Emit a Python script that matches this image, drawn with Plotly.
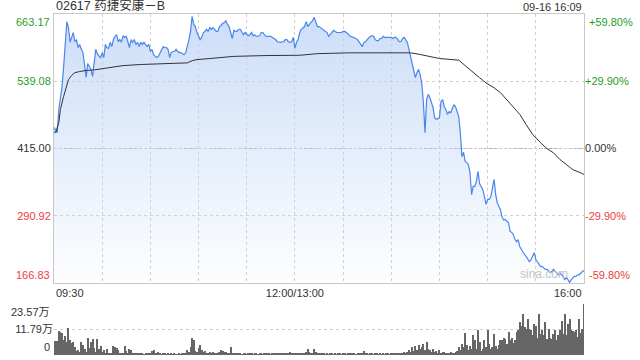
import plotly.graph_objects as go

# ---------------- data ----------------
title_text = "02617 药捷安康－B"
stamp_text = "09-16 16:09"
prev_close = 415.00
price_ticks = [663.17, 539.08, 415.00, 290.92, 166.83]
pct_ticks = [59.80, 29.90, 0.00, -29.90, -59.80]
vol_max = 23.57  # 万
vol_mid = 11.79  # 万
time_tick_minutes = [0, 30, 60, 90, 120, 150, 180, 210, 240, 270, 300, 330]
time_tick_labels = ["09:30", "", "", "", "", "12:00/13:00", "", "", "", "", "", "16:00"]

minutes = list(range(331))  # trading minutes since 09:30 (lunch break removed)

price = [
    454, 448, 444, 487, 511, 529, 566, 616, 649, 638,
    611, 620, 629, 612, 616, 601, 607, 598, 592, 570,
    546, 572, 565, 561, 548, 570, 598, 590, 586, 582,
    592, 583, 607, 601, 600, 611, 603, 616, 622, 625,
    612, 616, 611, 623, 620, 622, 612, 601, 616, 611,
    616, 607, 611, 603, 611, 607, 611, 607, 603, 607,
    594, 598, 588, 585, 583, 585, 592, 598, 603, 601,
    601, 598, 583, 592, 594, 594, 598, 594, 592, 592,
    590, 588, 592, 603, 616, 631, 659, 644, 640, 629,
    622, 616, 620, 629, 631, 635, 631, 638, 635, 638,
    635, 631, 631, 640, 642, 646, 647, 651, 644, 640,
    629, 618, 633, 631, 631, 635, 635, 629, 625, 629,
    625, 623, 625, 629, 623, 625, 622, 622, 623, 629,
    629, 625, 622, 622, 622, 622, 620, 618, 616, 612,
    611, 611, 612, 612, 616, 616, 612, 611, 612, 620,
    600, 611, 616, 629, 635, 638, 640, 649, 640, 644,
    647, 651, 657, 647, 640, 640, 638, 635, 633, 631,
    629, 622, 625, 629, 633, 631, 629, 629, 629, 629,
    631, 631, 629, 627, 623, 622, 620, 620, 618, 616,
    612, 607, 603, 611, 612, 616, 620, 622, 623, 622,
    616, 614, 614, 618, 618, 622, 620, 620, 620, 620,
    620, 618, 620, 620, 616, 612, 612, 618, 620, 616,
    611, 598, 585, 576, 561, 546, 555, 561, 551, 535,
    500, 444, 505, 515, 509, 500, 491, 472, 469, 470,
    472, 502, 505, 492, 487, 478, 483, 481, 487, 496,
    492, 483, 474, 444, 400, 408, 391, 389, 385, 371,
    330, 345, 345, 354, 373, 350, 343, 339, 326, 312,
    321, 321, 326, 340, 358, 330, 315, 308, 302, 288,
    283, 284, 280, 278, 262, 260, 256, 247, 243, 247,
    234, 229, 223, 219, 216, 210, 206, 210, 216, 223,
    210, 205, 201, 197, 197, 195, 192, 192, 188, 186,
    188, 192, 188, 186, 182, 186, 182, 179, 173, 177,
    173, 168, 173, 177, 179, 179, 182, 182, 186, 188, 190,
]

avg_minutes = [0, 1, 3, 4, 6, 8, 9, 11, 13, 16, 20, 25, 33, 37, 43, 54, 64, 74, 83, 86,
               89, 97, 112, 132, 153, 164, 184, 205, 222, 228, 234, 240, 252, 254, 257,
               261, 265, 269, 274, 278, 282, 286, 290, 294, 298, 303, 307, 311, 315, 319,
               323, 328, 330]
avg_price = [446, 444, 463, 487, 511, 533, 542, 550, 555, 557, 559, 560, 563, 564.5, 568,
             570, 571, 572, 573, 577, 579, 581, 585, 586.5, 587, 590, 591.5, 591.5, 591.5,
             588.5, 585, 581, 578, 573, 564, 555, 545.5, 536, 527, 518, 505, 493, 478, 459,
             441, 425.5, 414.5, 407, 394.7, 385.5, 376, 370, 367]

volume_wan = [
    6.5, 6.3, 6.5, 11.3, 10.8, 10.3, 7.0, 8.8, 6.0, 12.3,
    7.0, 5.4, 6.2, 3.5, 2.0, 2.3, 1.5, 6.2, 4.5, 3.0,
    1.2, 7.7, 3.4, 6.2, 7.4, 3.4, 1.5, 7.4, 3.0, 4.2,
    1.5, 2.3, 0.8, 3.0, 0.8, 0.5, 0.6, 4.2, 3.8, 3.4,
    2.3, 0.8, 0.6, 1.0, 4.2, 2.0, 0.8, 2.6, 2.3, 0.8,
    0.6, 0.5, 0.8, 0.5, 0.6, 0.5, 0.4, 0.6, 0.5, 0.8,
    0.6, 2.0, 2.3, 1.0, 0.5, 1.5, 0.5, 0.4, 1.0, 0.5,
    0.4, 0.5, 0.3, 0.6, 0.4, 0.5, 0.3, 0.4, 0.6, 0.4,
    0.5, 0.6, 0.8, 2.3, 1.2, 3.8, 7.7, 6.8, 2.0, 1.2,
    3.4, 4.6, 2.3, 1.5, 2.0, 1.0, 0.8, 1.2, 0.8, 1.5,
    0.6, 1.0, 0.8, 1.5, 2.5, 2.0, 1.2, 1.5, 0.8, 1.0,
    3.8, 1.0, 0.6, 0.5, 0.8, 0.5, 0.6, 0.4, 0.5, 0.6,
    0.4, 0.5, 0.8, 0.5, 0.4, 0.6, 0.5, 0.3, 0.5, 0.6,
    0.4, 0.5, 0.6, 0.8, 0.5, 0.4, 0.6, 0.5, 0.8, 1.0,
    0.6, 0.5, 0.8, 1.0, 0.6, 0.5, 0.8, 1.2, 0.6, 1.0,
    0.8, 0.6, 1.0, 0.8, 0.5, 0.6, 1.0, 1.5, 3.0, 1.2,
    0.8, 1.0, 2.7, 1.5, 1.0, 0.6, 0.8, 0.5, 0.6, 0.4,
    0.5, 0.4, 0.6, 0.5, 0.4, 0.5, 0.3, 0.5, 0.6, 0.4,
    0.5, 0.6, 0.4, 0.5, 0.6, 0.8, 0.5, 0.6, 0.4, 0.8,
    0.6, 1.0, 0.8, 1.8, 0.6, 0.5, 0.4, 0.6, 0.5, 0.4,
    0.5, 0.6, 0.4, 0.5, 0.3, 0.5, 0.4, 0.6, 0.5, 0.4,
    0.6, 0.5, 0.8, 0.6, 0.5, 0.8, 1.0, 0.8, 1.2, 1.0,
    1.5, 2.3, 1.5, 3.8, 2.0, 4.0, 2.5, 4.5, 3.0, 3.8,
    5.3, 2.5, 6.0, 3.0, 2.5, 1.5, 3.0, 1.2, 2.0, 1.0,
    2.5, 0.8, 1.2, 1.5, 0.6, 1.0, 0.8, 1.2, 0.6, 0.8,
    1.5, 2.0, 3.5, 2.5, 5.3, 3.8, 10.2, 4.5, 2.5, 4.1,
    3.0, 9.1, 6.8, 3.0, 11.4, 6.0, 2.0, 3.0, 6.8, 3.5,
    11.4, 5.3, 2.6, 3.5, 9.8, 4.1, 3.0, 4.5, 6.8, 6.8,
    8.0, 7.6, 5.0, 10.6, 6.8, 8.0, 5.6, 6.8, 10.6, 11.4,
    15.2, 13.6, 18.9, 12.9, 12.1, 16.7, 12.1, 11.4, 9.1, 14.4,
    13.6, 8.0, 18.9, 9.5, 11.4, 9.1, 15.2, 7.6, 12.1, 8.0,
    7.6, 9.5, 11.7, 6.8, 9.1, 11.4, 15.9, 9.5, 18.9, 9.1,
    14.4, 16.7, 11.4, 11.1, 10.6, 11.4, 8.3, 16.7, 10.0, 12.0, 23.57,
]

# ---------------- styles ----------------
GREEN = "#1f9e1f"
RED = "#ee3b3b"
DARK = "#333333"
FONT = "Liberation Sans, Arial, Noto Sans CJK SC"
GRID = "#d0d0d0"
FRAME = "#c8c8c8"


def colour_for(v):
    if v > 0:
        return GREEN
    if v < 0:
        return RED
    return DARK


fig = go.Figure()

fig.add_trace(go.Scatter(
    x=minutes, y=price, mode="lines",
    line=dict(color="#4a86ec", width=1.2),
    fill="tozeroy",
    fillgradient=dict(type="vertical",
                      colorscale=[[0, "rgba(190,212,246,0.03)"], [1, "rgba(190,212,246,0.78)"]],
                      start=price_ticks[-1], stop=price_ticks[0]),
    xaxis="x", yaxis="y", hoverinfo="skip", showlegend=False,
))
fig.add_trace(go.Scatter(
    x=avg_minutes, y=avg_price, mode="lines",
    line=dict(color="#333333", width=1),
    xaxis="x", yaxis="y", hoverinfo="skip", showlegend=False,
))
fig.add_trace(go.Bar(
    x=minutes, y=volume_wan, width=0.62,
    marker=dict(color="#666666", line=dict(width=0)),
    xaxis="x2", yaxis="y3", hoverinfo="skip", showlegend=False,
))

main_bottom = 72 / 341
vol_top = 51 / 341

price_text = []
for p, pc in zip(price_ticks, pct_ticks):
    price_text.append("" if abs(pc) == max(pct_ticks) else
                      f'<span style="color:{colour_for(pc)}">{p:.2f}</span>')
pct_text = []
for pc in pct_ticks:
    s = f"+{pc:.2f}%" if pc > 0 else f"{pc:.2f}%"
    pct_text.append("" if abs(pc) == max(pct_ticks) else
                    f'<span style="color:{colour_for(pc)}">{s}</span>')

fig.update_layout(
    width=640, height=360,
    margin=dict(l=54, r=56, t=14, b=5),
    paper_bgcolor="white", plot_bgcolor="white",
    font=dict(family=FONT, size=11, color=DARK),
    bargap=0,
    xaxis=dict(domain=[0, 1], anchor="y", range=[0, 330],
               tickvals=time_tick_minutes,
               ticktext=["" if (t == "09:30" or t == "16:00") else t for t in time_tick_labels],
               ticks="", showgrid=True, gridcolor=GRID, griddash="dot", gridwidth=1,
               showline=True, linecolor=FRAME, mirror=True, zeroline=False,
               tickfont=dict(size=11, color=DARK)),
    yaxis=dict(domain=[main_bottom, 1], anchor="x", range=[price_ticks[-1], price_ticks[0]],
               tickvals=price_ticks, ticktext=price_text, ticks="",
               showgrid=True, gridcolor=GRID, griddash="dot",
               showline=True, linecolor=FRAME, mirror=True, zeroline=False,
               tickfont=dict(size=11)),
    yaxis2=dict(overlaying="y", side="right", anchor="x",
                range=[pct_ticks[-1], pct_ticks[0]],
                tickvals=pct_ticks, ticktext=pct_text, ticks="",
                showgrid=False, zeroline=False, showline=False,
                tickfont=dict(size=11)),
    xaxis2=dict(domain=[0, 1], anchor="y3", matches="x", range=[-0.5, 330.5],
                showticklabels=False, showgrid=False, showline=False, zeroline=False, ticks=""),
    yaxis3=dict(domain=[0, vol_top], anchor="x2", range=[0, vol_max],
                tickvals=[vol_mid, vol_max], ticktext=[f"{vol_mid:.2f}万", ""], ticks="",
                showgrid=True, gridcolor=GRID, griddash="dot",
                showline=False, zeroline=False, tickfont=dict(size=11, color=DARK)),
)

fig.add_shape(type="line", xref="x domain", yref="y", x0=0, x1=1,
              y0=prev_close, y1=prev_close, layer="below",
              line=dict(color="#b0b0b0", width=1, dash="3px,2px"))

ann = []
# title and timestamp
ann.append(dict(text=title_text, xref="paper", yref="paper", x=0, y=1, xanchor="left",
                yanchor="bottom", xshift=0, yshift=-1, showarrow=False,
                font=dict(size=12.5, color=DARK)))
ann.append(dict(text=stamp_text, xref="paper", yref="paper", x=1, y=1, xanchor="right",
                yanchor="bottom", yshift=-1, showarrow=False, font=dict(size=11, color=DARK)))
# extreme price labels
ann.append(dict(text=f"{price_ticks[0]:.2f}", xref="paper", yref="y", x=0, y=price_ticks[0],
                xanchor="right", yanchor="top", xshift=-2, showarrow=False,
                font=dict(size=11, color=GREEN)))
ann.append(dict(text=f"{price_ticks[-1]:.2f}", xref="paper", yref="y", x=0, y=price_ticks[-1],
                xanchor="right", yanchor="bottom", xshift=-2, showarrow=False,
                font=dict(size=11, color=RED)))
ann.append(dict(text=f"+{pct_ticks[0]:.2f}%", xref="paper", yref="y2", x=1, y=pct_ticks[0],
                xanchor="left", yanchor="top", xshift=3, showarrow=False,
                font=dict(size=11, color=GREEN)))
ann.append(dict(text=f"{pct_ticks[-1]:.2f}%", xref="paper", yref="y2", x=1, y=pct_ticks[-1],
                xanchor="left", yanchor="bottom", xshift=3, showarrow=False,
                font=dict(size=11, color=RED)))
# first / last time labels
ann.append(dict(text=time_tick_labels[0], xref="x", yref="paper", x=time_tick_minutes[0],
                y=main_bottom, xanchor="left", yanchor="top", yshift=-2, showarrow=False,
                font=dict(size=11, color=DARK)))
ann.append(dict(text=time_tick_labels[-1], xref="x", yref="paper", x=time_tick_minutes[-1],
                y=main_bottom, xanchor="right", yanchor="top", yshift=-2, showarrow=False,
                font=dict(size=11, color=DARK)))
# volume extreme labels
ann.append(dict(text=f"{vol_max:.2f}万", xref="paper", yref="y3", x=0, y=vol_max,
                xanchor="right", yanchor="top", xshift=-2, showarrow=False,
                font=dict(size=11, color=DARK)))
ann.append(dict(text="0", xref="paper", yref="y3", x=0, y=0,
                xanchor="right", yanchor="bottom", xshift=-2, showarrow=False,
                font=dict(size=11, color=DARK)))
# watermark
ann.append(dict(text="sina.com", xref="paper", yref="paper", x=0.974, y=main_bottom,
                xanchor="right", yanchor="bottom", showarrow=False,
                font=dict(size=12, color="#c4c4c4")))
fig.update_layout(annotations=ann)

fig.write_html("out.html")
